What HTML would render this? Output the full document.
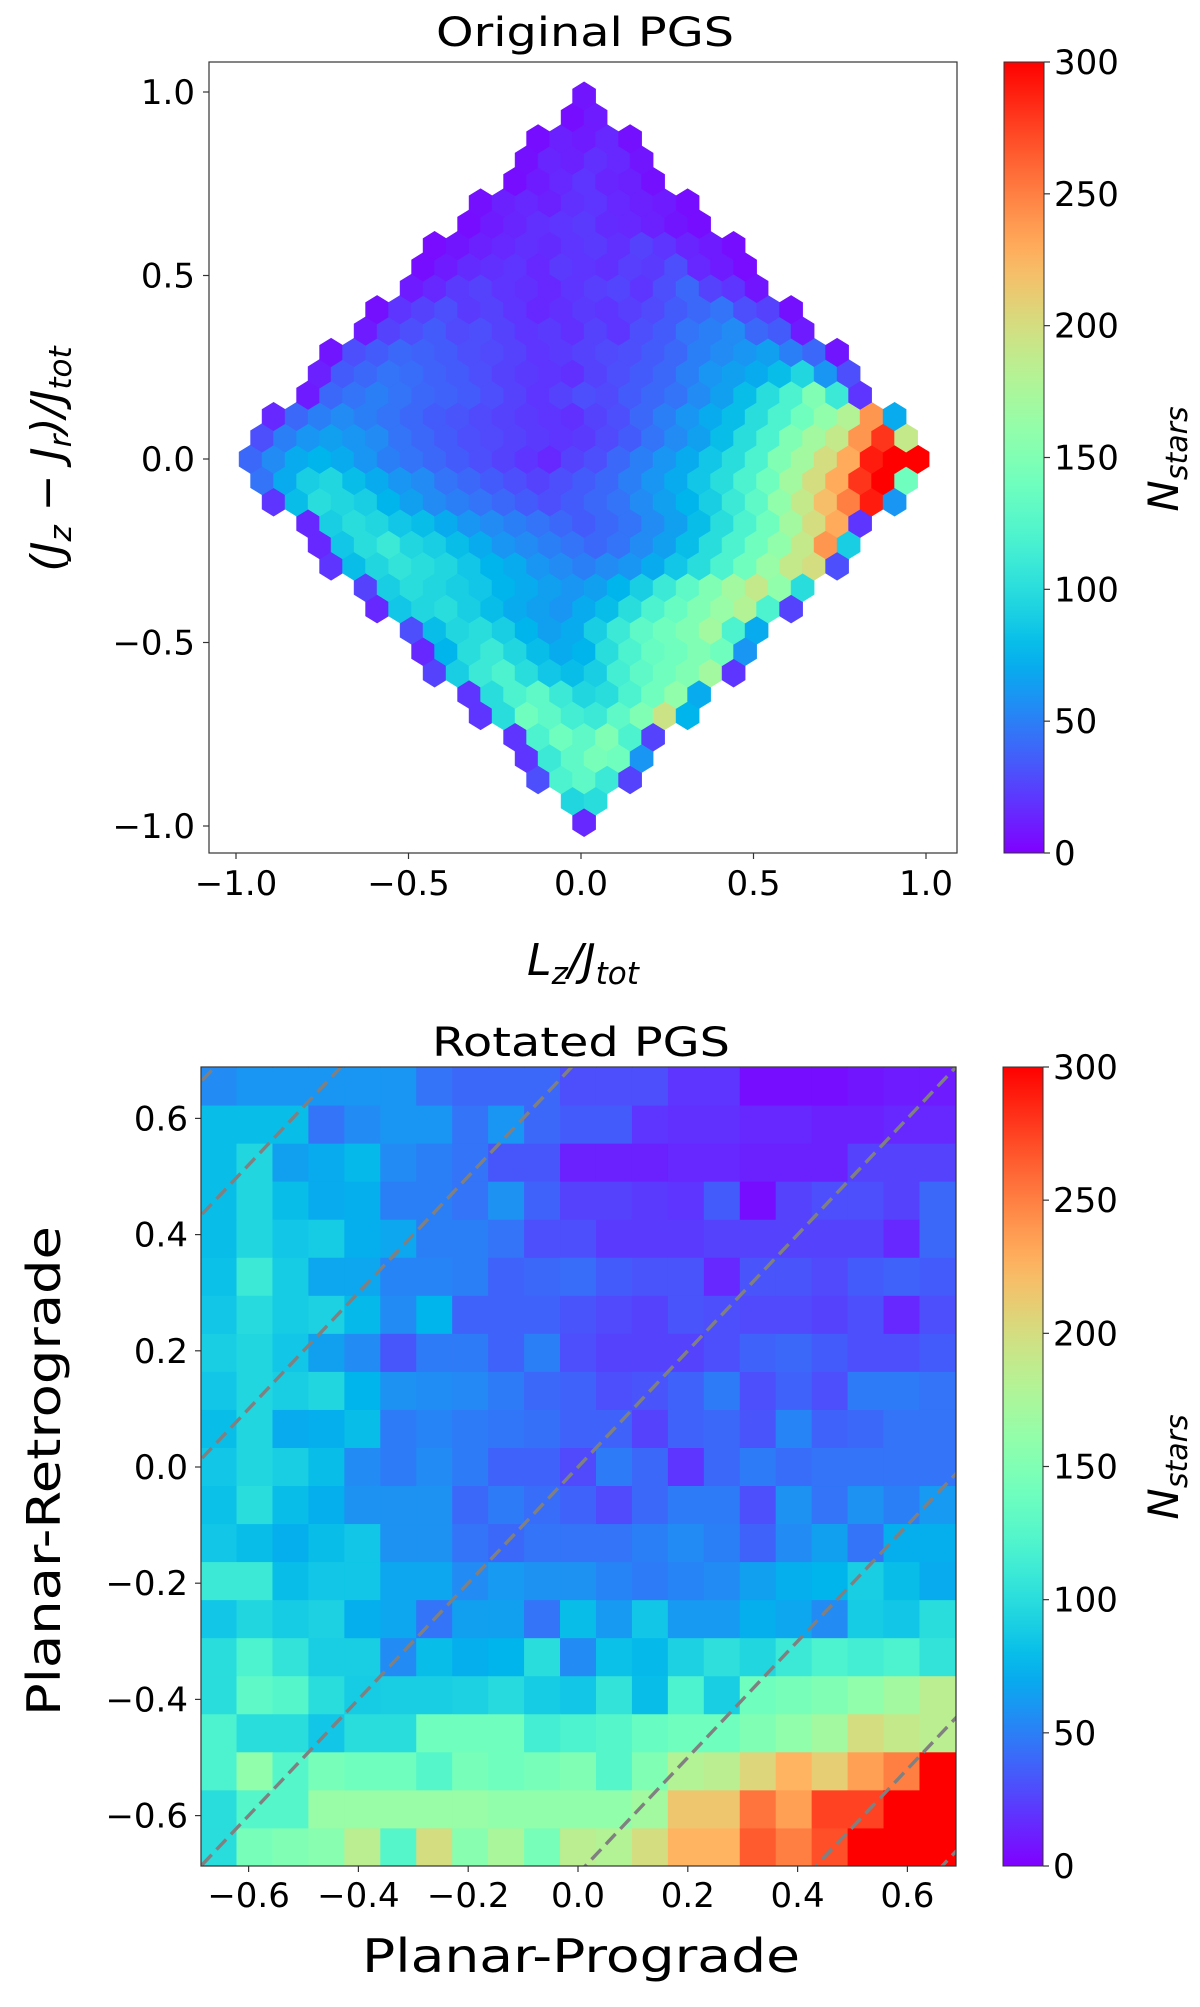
<!DOCTYPE html>
<html><head><meta charset="utf-8">
<style>
html,body{margin:0;padding:0;background:#fff;width:1200px;height:2007px;overflow:hidden;}
svg{display:block;}
text{font-family:"DejaVu Sans","Liberation Sans",sans-serif;fill:#000;}
</style></head>
<body>
<svg id="fig" width="1200" height="2007" viewBox="0 0 1200 2007" xmlns="http://www.w3.org/2000/svg">
  <defs>
    <clipPath id="clipTop"><rect x="209" y="62" width="748" height="791"/></clipPath>
    <clipPath id="clipBot"><rect x="201" y="1067" width="755" height="799"/></clipPath>
  </defs>
  <rect x="0" y="0" width="1200" height="2007" fill="#fff"/>
  <text x="585" y="46" font-size="40" text-anchor="middle" textLength="298" lengthAdjust="spacingAndGlyphs">Original PGS</text>
  <g id="topHex" clip-path="url(#clipTop)"></g>
  <rect x="209" y="62" width="748" height="791" fill="none" stroke="#333" stroke-width="1.2"/>
  <g id="topTicks"></g>
  <text x="583" y="975" font-size="44" font-style="italic" text-anchor="middle">L<tspan dy="9" font-size="31">z</tspan><tspan dy="-9">/J</tspan><tspan dy="9" font-size="31">tot</tspan></text>
  <text transform="translate(62,459) rotate(-90)" x="0" y="0" font-size="44" font-style="italic" text-anchor="middle">(J<tspan dy="9" font-size="31">z</tspan><tspan dy="-9"> − J</tspan><tspan dy="9" font-size="31">r</tspan><tspan dy="-9">)/J</tspan><tspan dy="9" font-size="31">tot</tspan></text>
  <rect id="cbTop" x="1004" y="62" width="40" height="791" stroke="#333" stroke-width="1"/>
  <g id="cbTopTicks"></g>
  <text transform="translate(1178,459) rotate(-90)" x="0" y="0" font-size="42" font-style="italic" text-anchor="middle">N<tspan dy="9" font-size="30">stars</tspan></text>

  <text x="581" y="1056" font-size="40" text-anchor="middle" textLength="298" lengthAdjust="spacingAndGlyphs">Rotated PGS</text>
  <g id="botHeat" clip-path="url(#clipBot)"></g>
  <g id="botLines" clip-path="url(#clipBot)"></g>
  <rect x="201" y="1067" width="755" height="799" fill="none" stroke="#333" stroke-width="1.2"/>
  <g id="botTicks"></g>
  <text x="581" y="1972" font-size="46" text-anchor="middle" textLength="438" lengthAdjust="spacingAndGlyphs">Planar-Prograde</text>
  <text transform="translate(60,1471) rotate(-90)" x="0" y="0" font-size="46" text-anchor="middle" textLength="490" lengthAdjust="spacingAndGlyphs">Planar-Retrograde</text>
  <rect id="cbBot" x="1003" y="1067" width="40" height="799" stroke="#333" stroke-width="1"/>
  <g id="cbBotTicks"></g>
  <text transform="translate(1178,1467) rotate(-90)" x="0" y="0" font-size="42" font-style="italic" text-anchor="middle">N<tspan dy="9" font-size="30">stars</tspan></text>
</svg>
<script>
// ---------- data: top hexbin (rows from bottom k=0 to top k=34, left to right) ----------
const hexRows = [
[15],
[95,100],
[30,120,130,110,25],
[20,110,130,145,140,60],
[20,120,140,130,150,120,25],
[20,100,140,130,115,110,130,150,195,75],
[20,100,120,130,110,95,100,120,140,160,70],
[25,90,110,120,100,85,80,90,115,130,140,150,170,20],
[15,75,100,110,95,80,70,75,100,120,135,140,150,140,60],
[30,80,95,100,90,75,65,70,90,110,130,140,150,170,120,70],
[15,85,95,100,90,80,70,65,60,70,80,100,120,135,150,165,180,120,25],
[25,90,100,95,90,85,75,70,65,60,65,75,90,110,130,150,170,190,160,100],
[20,80,95,105,100,95,85,75,70,60,55,50,55,60,70,85,100,120,140,165,190,200,30],
[15,85,100,110,95,90,80,70,60,55,50,45,40,45,55,65,80,100,120,140,160,190,240,90],
[15,90,100,95,85,80,70,60,55,50,45,40,35,40,45,55,65,80,100,120,140,170,200,230,20],
[20,80,100,95,90,75,65,55,50,45,40,35,30,35,40,45,55,65,75,90,110,130,160,190,220,250,290,60],
[45,70,90,95,80,70,60,55,45,40,35,30,25,30,35,40,50,60,70,85,100,120,140,170,200,230,280,300,140],
[40,55,70,75,70,60,50,45,40,35,30,25,20,15,25,30,40,50,60,70,85,100,120,150,170,200,230,290,300,300],
[30,50,60,65,60,55,45,40,35,30,28,25,22,20,22,28,35,45,55,65,80,100,120,150,170,190,240,280,190],
[15,40,50,55,50,45,40,35,32,28,25,22,20,18,25,30,40,50,60,70,80,100,120,140,160,180,240,70],
[10,40,45,50,45,40,38,35,30,25,20,25,30,28,35,40,45,55,65,80,100,120,150,110,20],
[12,35,40,45,42,38,35,30,25,22,20,18,25,30,35,40,50,60,65,70,80,95,60,30],
[8,30,35,40,38,35,30,28,25,20,22,25,28,30,35,40,50,55,60,65,50,40,8],
[10,25,30,35,28,30,25,20,22,18,25,20,30,35,45,50,55,40,35,10],
[6,20,25,30,22,25,20,15,18,22,20,24,28,35,40,45,30,25,6],
[10,15,22,25,20,18,15,20,24,26,20,30,40,25,20,8],
[5,10,16,18,20,15,22,20,18,24,22,30,15,10,4],
[4,8,12,15,18,16,20,22,18,25,20,14,10,5],
[5,10,14,18,20,22,16,15,12,8,5],
[6,12,15,12,18,20,15,12,10,5],
[5,10,15,20,14,12,6],
[6,14,12,18,15,8],
[5,12,10,15,6],
[5,10],
[8]
];
const topXTicks = [-1.0,-0.5,0.0,0.5,1.0];
const topXTickLabels = ["−1.0","−0.5","0.0","0.5","1.0"];
const topYTicks = [-1.0,-0.5,0.0,0.5,1.0];
const topYTickLabels = ["−1.0","−0.5","0.0","0.5","1.0"];
const cbTicks = [0,50,100,150,200,250,300];
const cbTickLabels = ["0","50","100","150","200","250","300"];

// ---------- data: bottom heatmap (rows from top y=+0.65 to bottom, columns left to right) ----------
const heatRows = [
[55,60,60,60,60,60,45,40,40,40,30,30,30,20,20,5,5,5,8,10,10],
[80,80,80,45,55,60,60,45,60,40,35,35,20,18,18,15,15,12,12,15,15],
[80,95,65,70,78,55,50,45,33,33,12,12,12,15,15,12,12,12,25,25,25],
[80,95,80,70,72,50,50,45,58,38,25,25,22,20,35,5,25,30,30,25,40],
[80,95,85,88,72,68,50,50,45,30,30,22,22,22,25,25,25,25,25,15,40],
[82,110,88,68,68,52,52,50,38,40,42,35,32,32,15,32,32,28,35,38,35],
[85,98,88,92,78,55,75,38,38,38,32,28,25,32,30,28,28,25,30,15,30],
[90,95,85,65,55,33,48,48,38,50,30,25,25,25,30,38,40,35,30,30,35],
[85,95,90,95,75,58,56,54,48,40,38,30,32,38,48,30,38,30,48,48,45],
[80,95,70,72,80,48,52,48,46,44,38,38,25,38,40,32,52,38,40,45,45],
[85,95,90,80,55,48,55,48,38,38,28,48,40,20,40,48,42,45,45,45,45],
[82,100,80,72,58,58,58,40,48,42,38,28,40,48,48,30,58,45,58,50,62],
[85,80,72,80,85,58,58,45,40,45,45,45,50,55,50,38,55,65,45,72,72],
[110,110,80,85,85,68,68,55,62,58,58,52,48,52,55,65,72,75,90,80,70],
[85,95,88,92,72,68,45,65,65,45,80,62,85,62,62,72,68,55,88,85,100],
[100,120,105,90,90,55,80,72,75,100,55,82,78,92,102,95,110,120,115,120,105],
[100,130,125,100,88,90,90,92,98,88,85,105,80,120,90,140,145,150,160,170,185],
[120,100,100,85,100,100,140,140,140,115,120,125,135,140,140,150,160,170,200,190,185],
[120,160,125,145,140,140,125,145,140,145,150,125,150,180,185,205,225,210,235,250,300],
[100,125,125,165,165,165,165,165,160,160,160,160,170,215,215,255,235,275,275,300,300],
[100,145,150,155,185,125,200,155,175,145,185,180,200,225,225,265,250,270,300,300,300]
];
const heatEdgeMin = -0.6875, heatEdgeMax = 0.6875;
const diagOffsets = [-1.35,-1.12,-0.7,0,0.7,1.12,1.35];
const botTicks = [-0.6,-0.4,-0.2,0.0,0.2,0.4,0.6];
const botTickLabels = ["−0.6","−0.4","−0.2","0.0","0.2","0.4","0.6"];
</script>
<script>
const NS = "http://www.w3.org/2000/svg";
function mk(tag, attrs, parent){ const e=document.createElementNS(NS,tag); for(const k in attrs) e.setAttribute(k,attrs[k]); if(parent) parent.appendChild(e); return e; }
function cmap(v){
  let t=Math.max(0,Math.min(1,v/300));
  let r=Math.min(1,Math.abs(2*t-0.5)), g=Math.sin(Math.PI*t), b=Math.cos(Math.PI*t/2);
  const h=x=>Math.round(Math.max(0,Math.min(1,x))*255);
  return "rgb("+h(r)+","+h(g)+","+h(b)+")";
}
const tX = d => 581 + d*345;
const tY = d => 459 - d*367;
const hexG = document.getElementById('topHex');
const sx = 1/15, rowStep = 0.0582, sy = 2*rowStep;
const hw = sx*345/2, hTop = sy/3*367, hMid = sy/6*367;
hexRows.forEach((row,k)=>{
  const yd = -0.99 + k*rowStep;
  const n=row.length;
  row.forEach((v,i)=>{
    const xd = 0.009 + (i-(n-1)/2)*sx;
    const cx=tX(xd), cy=tY(yd);
    const pts=[[cx+hw,cy+hMid],[cx+hw,cy-hMid],[cx,cy-hTop],[cx-hw,cy-hMid],[cx-hw,cy+hMid],[cx,cy+hTop]].map(p=>p[0].toFixed(1)+","+p[1].toFixed(1)).join(" ");
    const p=mk('polygon',{points:pts,fill:cmap(v),stroke:cmap(v),'stroke-width':0.6},hexG);
    
    
  });
});
const tt=document.getElementById('topTicks');
topXTicks.forEach((d,i)=>{
  const x=tX(d);
  mk('line',{x1:x,y1:853,x2:x,y2:859,stroke:'#333','stroke-width':1.2},tt);
  const t=mk('text',{x:x,y:895,'font-size':34,'text-anchor':'middle'},tt); t.textContent=topXTickLabels[i];
  
  
});
topYTicks.forEach((d,i)=>{
  const y=tY(d);
  mk('line',{x1:203,y1:y,x2:209,y2:y,stroke:'#333','stroke-width':1.2},tt);
  const t=mk('text',{x:195,y:y+12,'font-size':34,'text-anchor':'end'},tt); t.textContent=topYTickLabels[i];
  
  
});
function colorbar(rectId, ticksId, x, top, bottom, gid){
  const defs=document.querySelector('defs');
  const lg=mk('linearGradient',{id:gid,x1:0,y1:1,x2:0,y2:0},defs);
  for(let s=0;s<=30;s++){ mk('stop',{offset:(s/30),'stop-color':cmap(s*10)},lg); }
  document.getElementById(rectId).setAttribute('fill','url(#'+gid+')');
  const g=document.getElementById(ticksId);
  cbTicks.forEach((v,i)=>{
    const y=bottom-(v/300)*(bottom-top);
    mk('line',{x1:x+40,y1:y,x2:x+46,y2:y,stroke:'#333','stroke-width':1.2},g);
    const t=mk('text',{x:x+50,y:y+12,'font-size':34},g); t.textContent=cbTickLabels[i];
    
    
  });
}
colorbar('cbTop','cbTopTicks',1004,62,853,'gradTop');
colorbar('cbBot','cbBotTicks',1003,1067,1866,'gradBot');
const bX = d => 578 + d*549;
const bY = d => 1467 - d*581;
const heatG=document.getElementById('botHeat');
const nC=heatRows[0].length, nR=heatRows.length;
const cw=(heatEdgeMax-heatEdgeMin)/nC, ch=(heatEdgeMax-heatEdgeMin)/nR;
heatRows.forEach((row,r)=>{
  row.forEach((v,c)=>{
    const x0=bX(heatEdgeMin+c*cw), x1=bX(heatEdgeMin+(c+1)*cw);
    const y0=bY(heatEdgeMax-r*ch), y1=bY(heatEdgeMax-(r+1)*ch);
    const rc=mk('rect',{x:x0.toFixed(2),y:y0.toFixed(2),width:(x1-x0+0.6).toFixed(2),height:(y1-y0+0.6).toFixed(2),fill:cmap(v)},heatG);
    
    
  });
});
const lg2=document.getElementById('botLines');
diagOffsets.forEach(c=>{
  const xa=-1, xb=1;
  const ln=mk('line',{x1:bX(xa),y1:bY(xa+c),x2:bX(xb),y2:bY(xb+c),stroke:'#808080','stroke-width':3.4,'stroke-dasharray':'14,7'},lg2);
  
  
});
const bt=document.getElementById('botTicks');
botTicks.forEach((d,i)=>{
  const x=bX(d);
  mk('line',{x1:x,y1:1866,x2:x,y2:1872,stroke:'#333','stroke-width':1.2},bt);
  const t=mk('text',{x:x,y:1907,'font-size':34,'text-anchor':'middle'},bt); t.textContent=botTickLabels[i];
  
  
  const y=bY(d);
  mk('line',{x1:195,y1:y,x2:201,y2:y,stroke:'#333','stroke-width':1.2},bt);
  const t2=mk('text',{x:188,y:y+12,'font-size':34,'text-anchor':'end'},bt); t2.textContent=botTickLabels[i];
  
  
});
</script>
</body></html>
